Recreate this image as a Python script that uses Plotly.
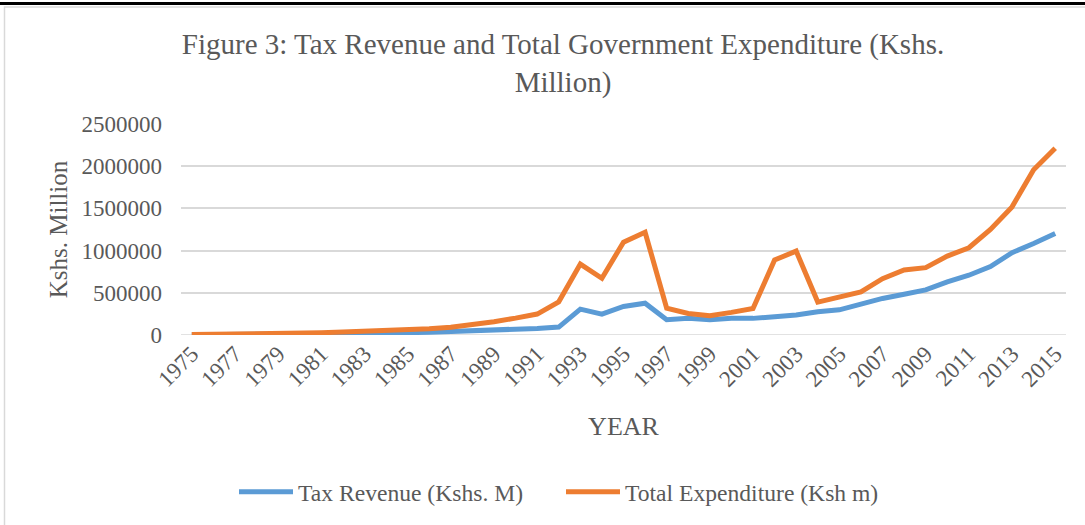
import plotly.graph_objects as go

years = list(range(1975, 2016))
tax_revenue = [3000, 4000, 5000, 6000, 7000, 9000, 11000, 14000, 18000, 22000,
               27000, 33000, 40000, 47000, 52000, 65000, 78000, 94000, 307000, 248000,
               338000, 377000, 180000, 197000, 182000, 197000, 197000, 216000, 236000, 275000,
               298000, 365000, 433000, 483000, 535000, 629000, 708000, 810000, 975000, 1085000,
               1203000]
total_expenditure = [5000, 7000, 10000, 12000, 15000, 20000, 27000, 35000, 42000, 52000,
                     62000, 75000, 92000, 122000, 158000, 200000, 248000, 393000, 840000, 672000,
                     1100000, 1218000, 318000, 255000, 228000, 268000, 315000, 888000, 994000, 390000,
                     444000, 510000, 668000, 770000, 798000, 935000, 1034000, 1250000, 1518000, 1958000,
                     2213000]
y_ticks = [0, 500000, 1000000, 1500000, 2000000, 2500000]
x_ticks = list(range(1975, 2016, 2))

W, H = 1085, 525
L, R, T, B = 181, 1066, 124, 336
FONT = "Liberation Serif"
GREY = "#595959"

def px(x):
    return (x - L) / (R - L)

def py(y):
    return (B - y) / (B - T)

fig = go.Figure()
fig.add_trace(go.Scatter(x=years, y=tax_revenue, mode="lines", name="Tax Revenue (Kshs. M)",
                         line=dict(color="#5B9BD5", width=5)))
fig.add_trace(go.Scatter(x=years, y=total_expenditure, mode="lines", name="Total Expenditure (Ksh m)",
                         line=dict(color="#ED7D31", width=5)))

fig.update_layout(
    width=W, height=H,
    margin=dict(l=L, r=W - R, t=T, b=H - B, pad=0),
    paper_bgcolor="white", plot_bgcolor="white",
    font=dict(family=FONT, color=GREY, size=20),
    title=dict(text="Figure 3: Tax Revenue and Total Government Expenditure (Kshs.<br>Million)",
               x=563 / W, xanchor="center", xref="container", y=1 - 54 / H, yanchor="top",
               yref="container",
               font=dict(family=FONT, size=29, color=GREY)),
    showlegend=True,
    legend=dict(orientation="h", x=px(234), xanchor="left", y=py(492), yanchor="middle",
                font=dict(family=FONT, size=23.6, color=GREY), itemwidth=54,
                entrywidth=258, entrywidthmode="pixels",
                bgcolor="rgba(0,0,0,0)", tracegroupgap=0),
)
fig.update_xaxes(range=[1974.5, 2015.5], tickmode="array", tickvals=x_ticks,
                 ticktext=[str(v) for v in x_ticks], tickangle=-45,
                 showgrid=False, zeroline=False, showline=False, ticks="",
                 tickfont=dict(family=FONT, size=23, color=GREY),
                 title=dict(text="YEAR", font=dict(family=FONT, size=26, color=GREY), standoff=26))
fig.update_yaxes(range=[0, 2500000], tickmode="array", tickvals=y_ticks,
                 ticktext=[str(v) for v in y_ticks],
                 showgrid=True, gridcolor="#D9D9D9", gridwidth=1.5,
                 zeroline=False, showline=False, ticks="", ticklabelstandoff=18,
                 tickfont=dict(family=FONT, size=23, color=GREY),
                 title=dict(text="Kshs. Million", font=dict(family=FONT, size=25, color=GREY), standoff=6))

# zero baseline drawn like the grid
fig.add_shape(type="line", xref="paper", yref="y", x0=0, x1=1, y0=0, y1=0,
              line=dict(color="#D9D9D9", width=1.5), layer="below")
# chart frame
fig.add_shape(type="rect", xref="paper", yref="paper", x0=px(4.5), x1=px(1095), y0=py(535), y1=py(6.5),
              line=dict(color="#D9D9D9", width=1.5), fillcolor="rgba(0,0,0,0)", layer="below")
# document rule above the chart
fig.add_shape(type="line", xref="paper", yref="paper", x0=px(-5), x1=px(1095), y0=py(3), y1=py(3),
              line=dict(color="black", width=3))

fig.write_html("out.html")
